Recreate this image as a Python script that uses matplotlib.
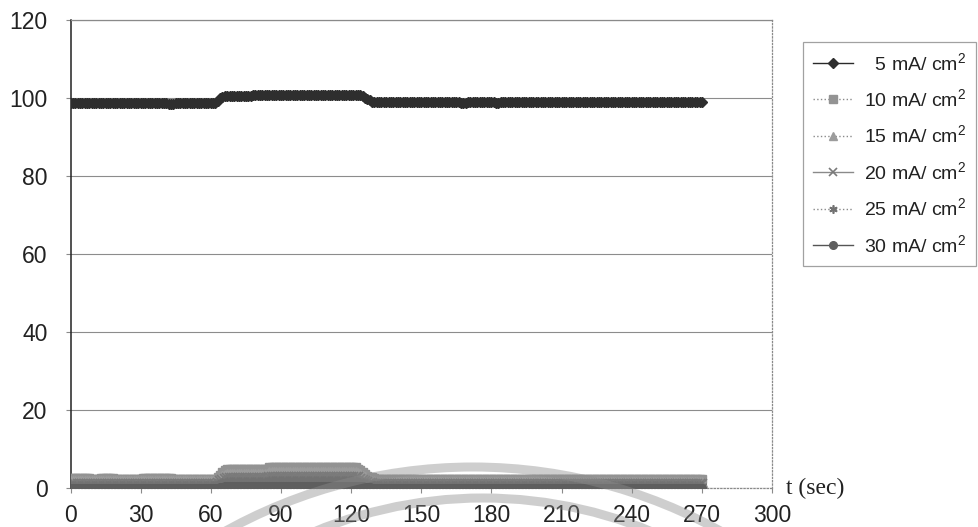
import numpy as np
import matplotlib
matplotlib.use("Agg")
import matplotlib.pyplot as plt
from matplotlib.patches import Arc
from matplotlib.transforms import IdentityTransform
from matplotlib.lines import Line2D

plt.rcParams['font.family'] = ['Liberation Sans', 'DejaVu Sans']
plt.rcParams['mathtext.fontset'] = 'custom'
plt.rcParams['mathtext.rm'] = 'Liberation Sans'
plt.rcParams['mathtext.it'] = 'Liberation Sans:italic'

# Readings sampled once per second, t = 0 ... 270 s
ma5 = ([98.8] * 42 + [98.5] * 3 + [98.8] * 13 + [98.6] * 5 + [99.3, 99.9, 100.3]
       + [100.5] * 12 + [100.8] * 47 + [100.5, 100.1, 99.7, 99.4] + [99.1] * 8
       + [98.9] * 30 + [98.6] * 3 + [98.9] * 12 + [98.7] * 2 + [98.9] * 87)

ma10 = ([2.6] * 9 + [2.3] * 4 + [2.6] * 6 + [2.3] * 12 + [2.6] * 13 + [2.3] * 19
        + [2.8, 3.4, 4.0, 4.5, 4.8] + [4.9] * 17 + [5.3] * 38
        + [5.0, 4.6, 4.1, 3.6, 3.2, 2.9, 2.7, 2.5]
        + [2.2] * 40 + [2.4] * 8 + [2.2] * 92)

ma15 = ([1.7] * 63 + [2.0, 2.5, 3.0, 3.4, 3.6] + [3.7] * 17 + [4.1] * 38
        + [3.9, 3.5, 3.1, 2.7, 2.3, 2.0, 1.8, 1.7] + [1.6] * 140)

ma20 = ([1.1] * 63 + [1.3, 1.7, 2.1, 2.4, 2.6] + [2.6] * 17 + [2.9] * 38
        + [2.7, 2.4, 2.1, 1.8, 1.5, 1.3, 1.2, 1.1] + [1.1] * 140)

ma25 = ([0.6] * 63 + [0.7, 0.9, 1.2, 1.4, 1.5] + [1.5] * 17 + [1.7] * 38
        + [1.6, 1.4, 1.2, 1.0, 0.9, 0.8, 0.7, 0.7] + [0.6] * 140)

ma30 = ([0.1] * 63 + [0.1, 0.2, 0.3, 0.4, 0.5] + [0.5] * 17 + [0.6] * 38
        + [0.6, 0.5, 0.4, 0.3, 0.2, 0.2, 0.1, 0.1] + [0.1] * 140)

labels = [r"  5 mA/ cm$^{\mathrm{2}}$", r"10 mA/ cm$^{\mathrm{2}}$",
          r"15 mA/ cm$^{\mathrm{2}}$", r"20 mA/ cm$^{\mathrm{2}}$",
          r"25 mA/ cm$^{\mathrm{2}}$", r"30 mA/ cm$^{\mathrm{2}}$"]
x_ticks = [0, 30, 60, 90, 120, 150, 180, 210, 240, 270, 300]
y_ticks = [0, 20, 40, 60, 80, 100, 120]

series = [ma5, ma10, ma15, ma20, ma25, ma30]
styles = [
    dict(color='#2a2a2a', ls='-', marker='D', ms=5.5, mfc='#2e2e2e', mec='#2e2e2e'),
    dict(color='#8a8a8a', ls=':', marker='s', ms=5.5, mfc='#939393', mec='#939393'),
    dict(color='#8a8a8a', ls=':', marker='^', ms=6.5, mfc='#9c9c9c', mec='#9c9c9c'),
    dict(color='#8a8a8a', ls='-', marker='x', ms=6.5, mfc='#7a7a7a', mec='#7a7a7a', mew=1.2),
    dict(color='#8a8a8a', ls=':', marker=(6, 2, 0), ms=7.0, mfc='#727272', mec='#727272', mew=1.2),
    dict(color='#555555', ls='-', marker='o', ms=5.5, mfc='#5e5e5e', mec='#5e5e5e'),
]

fig = plt.figure(figsize=(9.79, 5.27), dpi=100)
ax = fig.add_axes([70.5 / 979, 1 - 488 / 527, (772 - 70.5) / 979, (488 - 20) / 527])

for vals, st in zip(series, styles):
    t = np.arange(len(vals))
    ax.plot(t, vals, lw=1.0, zorder=3, **st)

ax.set_xlim(0, 300)
ax.set_ylim(0, 120)
ax.set_xticks(x_ticks)
ax.set_yticks(y_ticks)
ax.yaxis.grid(True, color='#8c8c8c', lw=0.8)
ax.set_axisbelow(True)

for s in ['top', 'right', 'bottom']:
    ax.spines[s].set_color('#8a8a8a')
    ax.spines[s].set_linewidth(0.9)
ax.spines['right'].set_linestyle(':')
ax.spines['bottom'].set_linestyle(':')
ax.spines['left'].set_color('#222222')
ax.spines['left'].set_linewidth(1.1)

ax.tick_params(axis='y', direction='out', length=3.6, width=0.8, color='#8a8a8a',
               pad=13, labelsize=16.5, labelcolor='#222222')
ax.tick_params(axis='x', direction='out', length=3.6, width=0.8, color='#8a8a8a',
               pad=8, labelsize=16.5, labelcolor='#222222')

ax.annotate('t (sec)', xy=(1, 0), xycoords='axes fraction', xytext=(10, 0),
            textcoords='offset points', ha='left', va='center',
            fontsize=17, family='Liberation Serif', color='#222222')

handle_styles = [dict(st) for st in styles]
for hs in handle_styles:
    hs['ms'] = min(hs['ms'], 6.0)
handles = [Line2D([], [], lw=1.0, **hs) for hs in handle_styles]
leg = fig.legend(handles, labels, loc='upper left',
                 bbox_to_anchor=(803 / 979, 1 - 42 / 527),
                 bbox_transform=fig.transFigure, borderaxespad=0,
                 fontsize=14, frameon=True, fancybox=False,
                 handlelength=2.05, handletextpad=0.6, borderpad=0.5,
                 labelspacing=0.75)
leg.get_frame().set_edgecolor('#8a8a8a')
leg.get_frame().set_linewidth(0.9)
for txt in leg.get_texts():
    txt.set_color('#222222')

# faint curved marks across the lower part of the sheet
for cx, cy, r, a1, a2 in [(473, -450, 510, 58, 122), (483, -410, 439, 64, 116)]:
    arc = Arc((cx, cy), 2 * r, 2 * r, theta1=a1, theta2=a2,
              transform=IdentityTransform(), color='#8c8c8c', lw=6.5,
              alpha=0.42, zorder=10)
    fig.add_artist(arc)

fig.savefig('out.png', dpi=100)
